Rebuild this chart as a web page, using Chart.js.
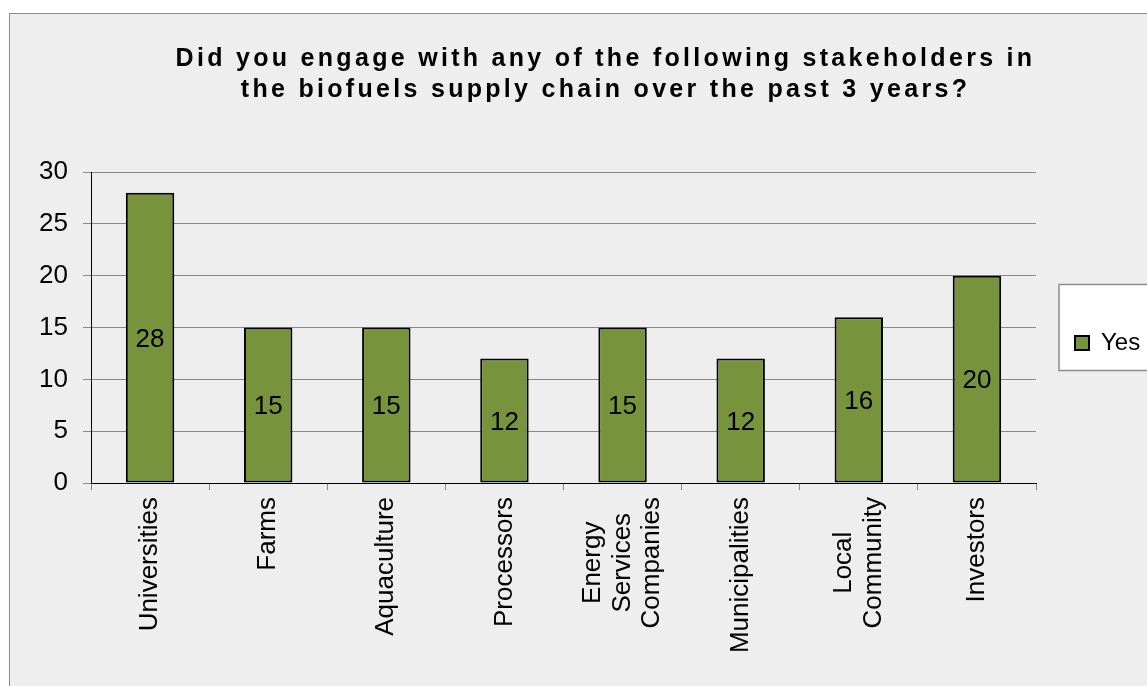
<!DOCTYPE html>
<html>
<head>
<meta charset="utf-8">
<script src="https://cdn.jsdelivr.net/npm/chart.js@4"></script>
<style>
  html, body { margin: 0; padding: 0; background: #fff; overflow: hidden; }
  #frame {
    position: absolute; left: 9px; top: 13px; width: 1200px; height: 740px;
    background: #eeeeee; border: 1.5px solid #8c8c8c;
  }
  #wrap { position: absolute; left: 0; top: 0; width: 1147px; height: 686px; }
</style>
</head>
<body>
<div id="frame"></div>
<div id="wrap"><canvas id="chart" width="1147" height="686"></canvas></div>
<script>
const titleLines = [
    'Did you engage with any of the following stakeholders in',
    'the biofuels supply chain over the past 3 years?'
];
const categories = [
    'Universities', 'Farms', 'Aquaculture', 'Processors',
    ['Energy', 'Services', 'Companies'], 'Municipalities',
    ['Local', 'Community'], 'Investors'
];
const seriesName = 'Yes';
const yesValues = [28, 15, 15, 12, 15, 12, 16, 20];
const yTickValues = [0, 5, 10, 15, 20, 25, 30];

const colors = {
    bar: '#77933c',
    grid: '#888888',
    text: '#000000'
};
const fontFamily = '"Liberation Sans", Arial, sans-serif';

Chart.defaults.font.family = fontFamily;
Chart.defaults.color = colors.text;

// the excel title sits a little right of centre and is loosely spaced
const titleShift = 32;
const titleSpacing = '3.3px';

// white box behind the legend, value labels and the rotated category labels
const excelBits = {
    id: 'excelBits',
    afterLayout(chart) {
        const title = chart.titleBlock;
        title.left += titleShift;
        title.right += titleShift;
        if (!title._spaced) {
            const draw = title.draw.bind(title);
            title.draw = function () {
                chart.ctx.save();
                chart.ctx.letterSpacing = titleSpacing;
                draw();
                chart.ctx.restore();
            };
            title._spaced = true;
        }
    },
    beforeDraw(chart) {
        const ctx = chart.ctx;
        const area = chart.chartArea;
        const mid = (area.top + area.bottom) / 2;
        ctx.save();
        ctx.fillStyle = '#ffffff';
        ctx.strokeStyle = '#8c8c8c';
        ctx.lineWidth = 1.5;
        ctx.fillRect(area.right + 23, mid - 43, 200, 86);
        ctx.strokeRect(area.right + 23, mid - 43, 200, 86);
        ctx.restore();
    },
    afterDatasetsDraw(chart) {
        const ctx = chart.ctx;
        const meta = chart.getDatasetMeta(0);
        ctx.save();
        ctx.font = '26px ' + fontFamily;
        ctx.fillStyle = colors.text;
        ctx.textAlign = 'center';
        ctx.textBaseline = 'middle';
        meta.data.forEach((bar, i) => {
            ctx.fillText(String(yesValues[i]), bar.x, (bar.y + bar.base) / 2 + 2);
        });
        ctx.restore();
    },
    afterDraw(chart) {
        const ctx = chart.ctx;
        const xScale = chart.scales.x;
        const lineGap = 29.5;
        ctx.save();
        ctx.font = '26px ' + fontFamily;
        ctx.fillStyle = colors.text;
        ctx.textBaseline = 'middle';
        ctx.textAlign = 'center';
        categories.forEach((cat, i) => {
            const lines = Array.isArray(cat) ? cat : [cat];
            const widest = Math.max(...lines.map(l => ctx.measureText(l).width));
            const x = xScale.getPixelForTick(i);
            ctx.save();
            ctx.translate(x, xScale.top + 14);
            ctx.rotate(-Math.PI / 2);
            lines.forEach((line, j) => {
                ctx.fillText(line, -widest / 2, (j - (lines.length - 1) / 2) * lineGap);
            });
            ctx.restore();
        });
        ctx.restore();
    }
};

const ctx = document.getElementById('chart').getContext('2d');
const chart = new Chart(ctx, {
    type: 'bar',
    data: {
        labels: categories,
        datasets: [{
            label: seriesName,
            data: yesValues,
            backgroundColor: colors.bar,
            borderColor: '#000000',
            borderWidth: 2,
            borderSkipped: false,
            categoryPercentage: 1,
            barPercentage: 0.41
        }]
    },
    options: {
        responsive: false,
        animation: false,
        events: [],
        layout: {
            padding: { left: 0, right: 0, top: 0, bottom: 0 }
        },
        plugins: {
            title: {
                display: true,
                text: titleLines,
                font: { size: 25, weight: 'bold', lineHeight: 1.24 },
                color: colors.text,
                padding: { top: 44, bottom: 66 }
            },
            legend: {
                display: true,
                position: 'right',
                maxWidth: 111,
                labels: {
                    boxWidth: 14,
                    boxHeight: 14,
                    padding: 39,
                    font: { size: 24 },
                    color: colors.text
                }
            },
            tooltip: { enabled: false }
        },
        scales: {
            x: {
                offset: true,
                grid: {
                    offset: true,
                    drawOnChartArea: false,
                    drawTicks: true,
                    tickLength: 7,
                    color: colors.grid
                },
                border: { color: '#000000', width: 1 },
                ticks: { display: false },
                afterFit(scale) { scale.height = 203; }
            },
            y: {
                min: yTickValues[0],
                max: yTickValues[yTickValues.length - 1],
                grid: {
                    color: colors.grid,
                    tickLength: 8
                },
                border: { color: '#000000', width: 1 },
                ticks: {
                    stepSize: yTickValues[1] - yTickValues[0],
                    padding: 15,
                    font: { size: 26 },
                    color: colors.text
                },
                afterFit(scale) { scale.width = 91; }
            }
        }
    },
    plugins: [excelBits]
});
</script>
</body>
</html>
